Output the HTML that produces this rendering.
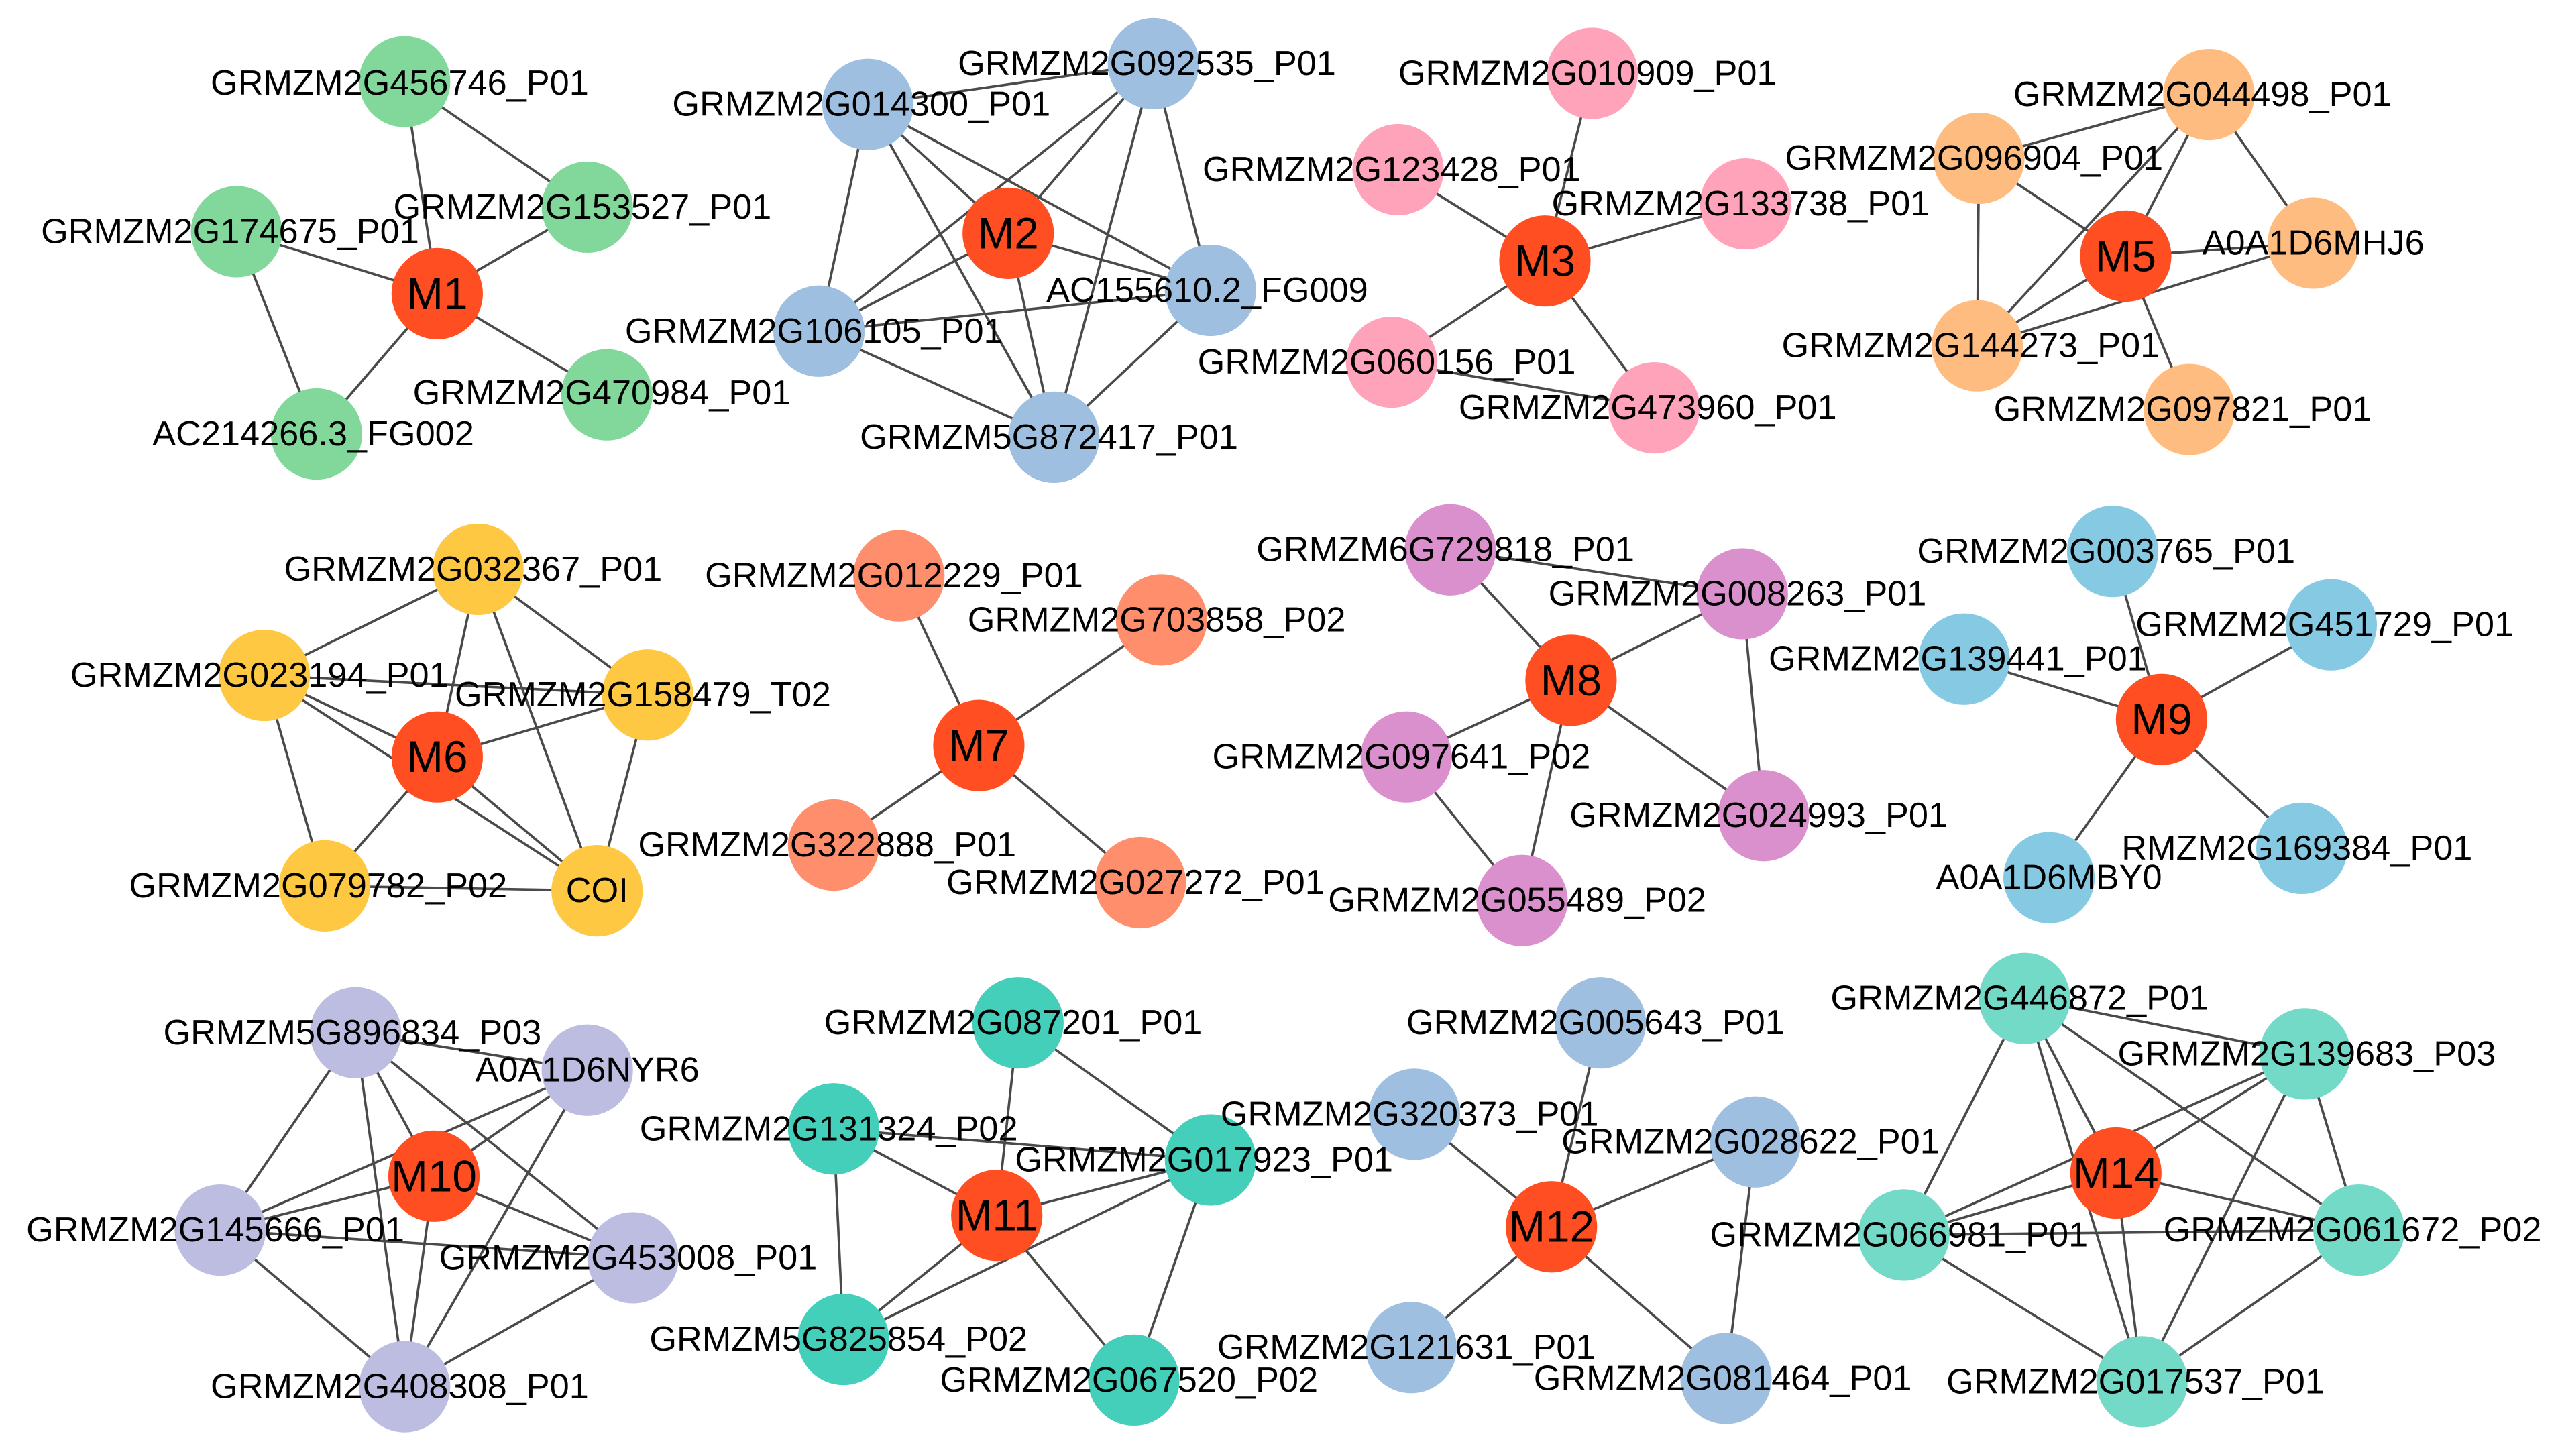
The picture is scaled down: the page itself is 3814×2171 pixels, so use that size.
<!DOCTYPE html>
<html><head><meta charset="utf-8"><style>
html,body{margin:0;padding:0;background:#fff;}
svg{display:block}
text{font-family:"Liberation Sans",Arial,sans-serif;fill:#000;text-anchor:middle;dominant-baseline:central}
.l{font-size:21.5px}
.m{font-size:27px}
line{stroke:#4a4a4a;stroke-width:1.5}
</style></head><body>
<svg width="3814" height="2171" viewBox="0 0 1568 892.5" preserveAspectRatio="none" xmlns="http://www.w3.org/2000/svg">
<rect width="1568" height="892.5" fill="#fff"/>
<g>
<!-- M1 -->
<line x1="268" y1="180" x2="248" y2="50"/><line x1="268" y1="180" x2="360" y2="127"/><line x1="268" y1="180" x2="145" y2="142"/><line x1="268" y1="180" x2="372" y2="242"/><line x1="268" y1="180" x2="194" y2="266"/><line x1="248" y1="50" x2="360" y2="127"/><line x1="145" y1="142" x2="194" y2="266"/>
<!-- M2 K6 -->
<line x1="532" y1="64" x2="707" y2="39"/><line x1="532" y1="64" x2="618" y2="143"/><line x1="532" y1="64" x2="742" y2="178"/><line x1="532" y1="64" x2="502" y2="203"/><line x1="532" y1="64" x2="646" y2="268"/>
<line x1="707" y1="39" x2="618" y2="143"/><line x1="707" y1="39" x2="502" y2="203"/><line x1="707" y1="39" x2="742" y2="178"/><line x1="707" y1="39" x2="646" y2="268"/>
<line x1="618" y1="143" x2="502" y2="203"/><line x1="618" y1="143" x2="742" y2="178"/><line x1="618" y1="143" x2="646" y2="268"/>
<line x1="502" y1="203" x2="742" y2="178"/><line x1="502" y1="203" x2="646" y2="268"/><line x1="742" y1="178" x2="646" y2="268"/>
<!-- M3 -->
<line x1="947" y1="160" x2="976" y2="45"/><line x1="947" y1="160" x2="857" y2="104"/><line x1="947" y1="160" x2="1070" y2="125"/><line x1="947" y1="160" x2="853" y2="222"/><line x1="947" y1="160" x2="1014" y2="250"/><line x1="853" y1="222" x2="1014" y2="250"/>
<!-- M5 -->
<line x1="1213" y1="97" x2="1354" y2="58"/><line x1="1213" y1="97" x2="1303" y2="157"/><line x1="1213" y1="97" x2="1212" y2="212"/><line x1="1354" y1="58" x2="1303" y2="157"/><line x1="1354" y1="58" x2="1212" y2="212"/><line x1="1354" y1="58" x2="1418" y2="149"/><line x1="1303" y1="157" x2="1418" y2="149"/><line x1="1303" y1="157" x2="1342" y2="251"/><line x1="1303" y1="157" x2="1212" y2="212"/><line x1="1212" y1="212" x2="1418" y2="149"/>
<!-- M6 -->
<line x1="293" y1="349" x2="162" y2="414"/><line x1="293" y1="349" x2="268" y2="464"/><line x1="293" y1="349" x2="397" y2="426"/><line x1="293" y1="349" x2="366" y2="546"/>
<line x1="162" y1="414" x2="397" y2="426"/>
<line x1="162" y1="414" x2="268" y2="464"/><line x1="162" y1="414" x2="199" y2="543"/><line x1="162" y1="414" x2="366" y2="546"/>
<line x1="268" y1="464" x2="397" y2="426"/><line x1="268" y1="464" x2="199" y2="543"/><line x1="268" y1="464" x2="366" y2="546"/><line x1="397" y1="426" x2="366" y2="546"/><line x1="199" y1="543" x2="366" y2="546"/>
<!-- M7 -->
<line x1="600" y1="457" x2="551" y2="353"/><line x1="600" y1="457" x2="712" y2="380"/><line x1="600" y1="457" x2="511" y2="518"/><line x1="600" y1="457" x2="699" y2="541"/>
<!-- M8 -->
<line x1="963" y1="417" x2="889" y2="337"/><line x1="963" y1="417" x2="1068" y2="364"/><line x1="963" y1="417" x2="862" y2="464"/><line x1="963" y1="417" x2="1081" y2="500"/><line x1="963" y1="417" x2="933" y2="552"/><line x1="889" y1="337" x2="1068" y2="364"/><line x1="1068" y1="364" x2="1081" y2="500"/><line x1="862" y1="464" x2="933" y2="552"/>
<!-- M9 -->
<line x1="1325" y1="441" x2="1295" y2="338"/><line x1="1325" y1="441" x2="1429" y2="383"/><line x1="1325" y1="441" x2="1204" y2="404"/><line x1="1325" y1="441" x2="1256" y2="538"/><line x1="1325" y1="441" x2="1411" y2="520"/>
<!-- M10 K6 -->
<line x1="218" y1="633" x2="360" y2="656"/><line x1="218" y1="633" x2="266" y2="721"/><line x1="218" y1="633" x2="135" y2="754"/><line x1="218" y1="633" x2="388" y2="771"/><line x1="218" y1="633" x2="248" y2="850"/>
<line x1="360" y1="656" x2="266" y2="721"/><line x1="360" y1="656" x2="135" y2="754"/><line x1="360" y1="656" x2="248" y2="850"/>
<line x1="266" y1="721" x2="135" y2="754"/><line x1="266" y1="721" x2="388" y2="771"/><line x1="266" y1="721" x2="248" y2="850"/>
<line x1="135" y1="754" x2="388" y2="771"/><line x1="135" y1="754" x2="248" y2="850"/><line x1="388" y1="771" x2="248" y2="850"/>
<!-- M11 -->
<line x1="611" y1="745" x2="624" y2="627"/><line x1="611" y1="745" x2="511" y2="692"/><line x1="611" y1="745" x2="742" y2="711"/><line x1="611" y1="745" x2="517" y2="821"/><line x1="611" y1="745" x2="695" y2="846"/>
<line x1="624" y1="627" x2="742" y2="711"/><line x1="511" y1="692" x2="742" y2="711"/><line x1="511" y1="692" x2="517" y2="821"/><line x1="517" y1="821" x2="742" y2="711"/><line x1="742" y1="711" x2="695" y2="846"/>
<!-- M12 -->
<line x1="951" y1="752" x2="981" y2="627"/><line x1="951" y1="752" x2="867" y2="683"/><line x1="951" y1="752" x2="1076" y2="700"/><line x1="951" y1="752" x2="865" y2="826"/><line x1="951" y1="752" x2="1058" y2="845"/><line x1="1076" y1="700" x2="1058" y2="845"/>
<!-- M14 K6 -->
<line x1="1241" y1="612" x2="1413" y2="646"/><line x1="1241" y1="612" x2="1297" y2="719"/><line x1="1241" y1="612" x2="1167" y2="757"/><line x1="1241" y1="612" x2="1446" y2="754"/><line x1="1241" y1="612" x2="1313" y2="847"/>
<line x1="1413" y1="646" x2="1297" y2="719"/><line x1="1413" y1="646" x2="1167" y2="757"/><line x1="1413" y1="646" x2="1446" y2="754"/><line x1="1413" y1="646" x2="1313" y2="847"/>
<line x1="1297" y1="719" x2="1167" y2="757"/><line x1="1297" y1="719" x2="1446" y2="754"/><line x1="1297" y1="719" x2="1313" y2="847"/>
<line x1="1167" y1="757" x2="1446" y2="754"/><line x1="1167" y1="757" x2="1313" y2="847"/><line x1="1446" y1="754" x2="1313" y2="847"/>
</g>
<g>
<g fill="#82d89a"><circle cx="248" cy="50" r="28"/><circle cx="360" cy="127" r="28"/><circle cx="145" cy="142" r="28"/><circle cx="372" cy="242" r="28"/><circle cx="194" cy="266" r="28"/></g>
<g fill="#9fbfe0"><circle cx="707" cy="39" r="28"/><circle cx="532" cy="64" r="28"/><circle cx="742" cy="178" r="28"/><circle cx="502" cy="203" r="28"/><circle cx="646" cy="268" r="28"/></g>
<g fill="#ffa3bb"><circle cx="976" cy="45" r="28"/><circle cx="857" cy="104" r="28"/><circle cx="1070" cy="125" r="28"/><circle cx="853" cy="222" r="28"/><circle cx="1014" cy="250" r="28"/></g>
<g fill="#ffbc80"><circle cx="1354" cy="58" r="28"/><circle cx="1213" cy="97" r="28"/><circle cx="1418" cy="149" r="28"/><circle cx="1212" cy="212" r="28"/><circle cx="1342" cy="251" r="28"/></g>
<g fill="#ffc842"><circle cx="293" cy="349" r="28"/><circle cx="162" cy="414" r="28"/><circle cx="397" cy="426" r="28"/><circle cx="199" cy="543" r="28"/><circle cx="366" cy="546" r="28"/></g>
<g fill="#ff8f6c"><circle cx="551" cy="353" r="28"/><circle cx="712" cy="380" r="28"/><circle cx="511" cy="518" r="28"/><circle cx="699" cy="541" r="28"/></g>
<g fill="#da90cc"><circle cx="889" cy="337" r="28"/><circle cx="1068" cy="364" r="28"/><circle cx="862" cy="464" r="28"/><circle cx="1081" cy="500" r="28"/><circle cx="933" cy="552" r="28"/></g>
<g fill="#86c9e3"><circle cx="1295" cy="338" r="28"/><circle cx="1429" cy="383" r="28"/><circle cx="1204" cy="404" r="28"/><circle cx="1256" cy="538" r="28"/><circle cx="1411" cy="520" r="28"/></g>
<g fill="#bcbde0"><circle cx="218" cy="633" r="28"/><circle cx="360" cy="656" r="28"/><circle cx="135" cy="754" r="28"/><circle cx="388" cy="771" r="28"/><circle cx="248" cy="850" r="28"/></g>
<g fill="#43cfba"><circle cx="624" cy="627" r="28"/><circle cx="511" cy="692" r="28"/><circle cx="742" cy="711" r="28"/><circle cx="517" cy="821" r="28"/><circle cx="695" cy="846" r="28"/></g>
<g fill="#9fbfe0"><circle cx="981" cy="627" r="28"/><circle cx="867" cy="683" r="28"/><circle cx="1076" cy="700" r="28"/><circle cx="865" cy="826" r="28"/><circle cx="1058" cy="845" r="28"/></g>
<g fill="#73dac8"><circle cx="1241" cy="612" r="28"/><circle cx="1413" cy="646" r="28"/><circle cx="1167" cy="757" r="28"/><circle cx="1446" cy="754" r="28"/><circle cx="1313" cy="847" r="28"/></g>
<g fill="#ff4f22"><circle cx="268" cy="180" r="28"/><circle cx="618" cy="143" r="28"/><circle cx="947" cy="160" r="28"/><circle cx="1303" cy="157" r="28"/><circle cx="268" cy="464" r="28"/><circle cx="600" cy="457" r="28"/><circle cx="963" cy="417" r="28"/><circle cx="1325" cy="441" r="28"/><circle cx="266" cy="721" r="28"/><circle cx="611" cy="745" r="28"/><circle cx="951" cy="752" r="28"/><circle cx="1297" cy="719" r="28"/></g>
</g>
<g class="m">
<text x="268" y="180">M1</text><text x="618" y="143">M2</text><text x="947" y="160">M3</text><text x="1303" y="157">M5</text><text x="268" y="464">M6</text><text x="600" y="457">M7</text><text x="963" y="417">M8</text><text x="1325" y="441">M9</text><text x="266" y="721">M10</text><text x="611" y="745">M11</text><text x="951" y="752">M12</text><text x="1297" y="719">M14</text>
</g>
<g class="l">
<text x="245" y="51">GRMZM2G456746_P01</text><text x="357" y="127">GRMZM2G153527_P01</text><text x="141" y="142">GRMZM2G174675_P01</text><text x="369" y="241">GRMZM2G470984_P01</text><text x="192" y="266">AC214266.3_FG002</text>
<text x="703" y="39">GRMZM2G092535_P01</text><text x="528" y="64">GRMZM2G014300_P01</text><text x="740" y="178">AC155610.2_FG009</text><text x="499" y="203">GRMZM2G106105_P01</text><text x="643" y="268">GRMZM5G872417_P01</text>
<text x="973" y="45">GRMZM2G010909_P01</text><text x="853" y="104">GRMZM2G123428_P01</text><text x="1067" y="125">GRMZM2G133738_P01</text><text x="850" y="222">GRMZM2G060156_P01</text><text x="1010" y="250">GRMZM2G473960_P01</text>
<text x="1350" y="58">GRMZM2G044498_P01</text><text x="1210" y="97">GRMZM2G096904_P01</text><text x="1418" y="149">A0A1D6MHJ6</text><text x="1208" y="212">GRMZM2G144273_P01</text><text x="1338" y="251">GRMZM2G097821_P01</text>
<text x="290" y="349">GRMZM2G032367_P01</text><text x="159" y="414">GRMZM2G023194_P01</text><text x="394" y="426">GRMZM2G158479_T02</text><text x="195" y="543">GRMZM2G079782_P02</text><text x="366" y="546">COI</text>
<text x="548" y="353">GRMZM2G012229_P01</text><text x="709" y="380">GRMZM2G703858_P02</text><text x="507" y="518">GRMZM2G322888_P01</text><text x="696" y="541">GRMZM2G027272_P01</text>
<text x="886" y="337">GRMZM6G729818_P01</text><text x="1065" y="364">GRMZM2G008263_P01</text><text x="859" y="464">GRMZM2G097641_P02</text><text x="1078" y="500">GRMZM2G024993_P01</text><text x="930" y="552">GRMZM2G055489_P02</text>
<text x="1291" y="338">GRMZM2G003765_P01</text><text x="1425" y="383">GRMZM2G451729_P01</text><text x="1200" y="404">GRMZM2G139441_P01</text><text x="1256" y="538">A0A1D6MBY0</text><text x="1408" y="520">RMZM2G169384_P01</text>
<text x="216" y="633">GRMZM5G896834_P03</text><text x="360" y="656">A0A1D6NYR6</text><text x="132" y="754">GRMZM2G145666_P01</text><text x="385" y="771">GRMZM2G453008_P01</text><text x="245" y="850">GRMZM2G408308_P01</text>
<text x="621" y="627">GRMZM2G087201_P01</text><text x="508" y="692">GRMZM2G131324_P02</text><text x="738" y="711">GRMZM2G017923_P01</text><text x="514" y="821">GRMZM5G825854_P02</text><text x="692" y="846">GRMZM2G067520_P02</text>
<text x="978" y="627">GRMZM2G005643_P01</text><text x="864" y="683">GRMZM2G320373_P01</text><text x="1073" y="700">GRMZM2G028622_P01</text><text x="862" y="826">GRMZM2G121631_P01</text><text x="1056" y="845">GRMZM2G081464_P01</text>
<text x="1238" y="612">GRMZM2G446872_P01</text><text x="1414" y="646">GRMZM2G139683_P03</text><text x="1164" y="757">GRMZM2G066981_P01</text><text x="1442" y="754">GRMZM2G061672_P02</text><text x="1309" y="847">GRMZM2G017537_P01</text>
</g>
</svg>
</body></html>
